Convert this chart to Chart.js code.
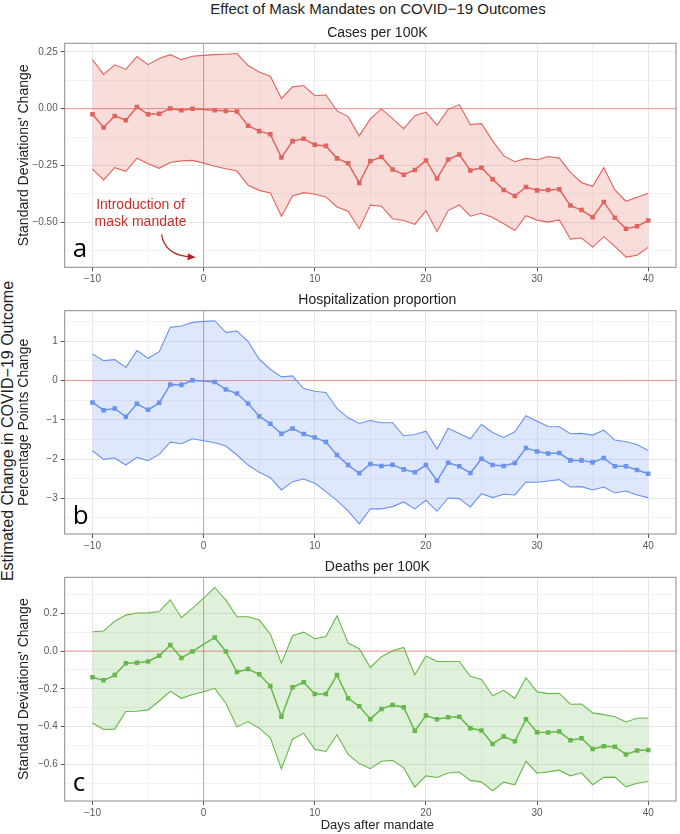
<!DOCTYPE html>
<html>
<head>
<meta charset="utf-8">
<script src="https://cdn.jsdelivr.net/npm/chart.js@4.4.1/dist/chart.umd.min.js"></script>
<style>
  body { margin: 0; background: #fff; }
  #page { position: relative; width: 680px; height: 834px; background: #fff; overflow: hidden;
          font-family: "Liberation Sans", Arial, sans-serif; color: #222; }
  canvas { position: absolute; left: 0; }
  #mainTitle { position: absolute; left: 0; top: 0; width: 756px; text-align: center;
               font-size: 15px; line-height: 17px; }
  #yLabel { position: absolute; left: -192px; top: 422px; width: 400px; height: 18px; line-height: 18px;
            text-align: center; font-size: 16px; transform: rotate(-90deg); }
</style>
</head>
<body>
<div id="page">
  <div id="mainTitle">Effect of Mask Mandates on COVID−19 Outcomes</div>
  <div id="yLabel">Estimated Change in COVID−19 Outcome</div>
  <canvas id="casesChart" width="680" height="290" style="top:0px"></canvas>
  <canvas id="hospChart" width="680" height="267" style="top:290px"></canvas>
  <canvas id="deathsChart" width="680" height="277" style="top:557px"></canvas>
</div>
<script>
// days relative to the mandate; day 0 is the reference (no point estimate)
const days = [-10, -9, -8, -7, -6, -5, -4, -3, -2, -1, 0, 1, 2, 3, 4, 5, 6, 7, 8, 9, 10,
  11, 12, 13, 14, 15, 16, 17, 18, 19, 20, 21, 22, 23, 24, 25, 26, 27, 28, 29, 30,
  31, 32, 33, 34, 35, 36, 37, 38, 39, 40];
const xMajor = [-10, 0, 10, 20, 30, 40];
const xMinor = [-5, 5, 15, 25, 35];
const xLabels = ['−10', '0', '10', '20', '30', '40'];

// a: cases per 100K
const casesMid = [-0.025, -0.083, -0.032, -0.051, 0.007, -0.025, -0.022, 0.001, -0.007, 0.000, null,
  -0.007, -0.010, -0.013, -0.075, -0.099, -0.113, -0.215, -0.143, -0.133, -0.159, -0.164, -0.219, -0.241, -0.327,
  -0.231, -0.213, -0.268, -0.291, -0.270, -0.228, -0.308, -0.224, -0.202, -0.272, -0.260, -0.311, -0.358,
  -0.385, -0.345, -0.360, -0.358, -0.355, -0.427, -0.447, -0.478, -0.411, -0.481, -0.529, -0.518, -0.493];
const casesHigh = [0.216, 0.151, 0.193, 0.173, 0.230, 0.194, 0.221, 0.238, 0.216, 0.231, 0.235,
  0.238, 0.240, 0.243, 0.190, 0.162, 0.143, 0.045, 0.096, 0.102, 0.057, 0.060, -0.010, -0.035, -0.120,
  -0.045, -0.001, -0.044, -0.088, -0.031, -0.015, -0.072, -0.003, 0.018, -0.070, -0.066, -0.142, -0.208,
  -0.234, -0.219, -0.225, -0.211, -0.218, -0.281, -0.326, -0.342, -0.260, -0.358, -0.408, -0.390, -0.373];
const casesLow = [-0.266, -0.314, -0.260, -0.276, -0.218, -0.243, -0.263, -0.237, -0.230, -0.228, -0.240,
  -0.254, -0.265, -0.275, -0.338, -0.360, -0.371, -0.474, -0.385, -0.370, -0.377, -0.389, -0.433, -0.452, -0.529,
  -0.425, -0.430, -0.485, -0.493, -0.510, -0.450, -0.542, -0.449, -0.424, -0.474, -0.461, -0.480, -0.507,
  -0.537, -0.472, -0.491, -0.500, -0.490, -0.575, -0.570, -0.610, -0.564, -0.607, -0.654, -0.646, -0.611];
const casesTicks = [0.25, 0, -0.25, -0.5];
const casesTickLabels = ['0.25', '0.00', '−0.25', '−0.50'];
const casesMinor = [0.125, -0.125, -0.375, -0.625];

// b: hospitalization proportion
const hospMid = [-0.559, -0.754, -0.712, -0.924, -0.593, -0.746, -0.568, -0.102, -0.110, 0.008, null,
  -0.034, -0.229, -0.331, -0.585, -0.907, -1.102, -1.356, -1.220, -1.364, -1.449, -1.568, -1.898, -2.153, -2.364,
  -2.127, -2.178, -2.144, -2.263, -2.339, -2.153, -2.551, -2.093, -2.186, -2.356, -1.992, -2.153, -2.178,
  -2.102, -1.720, -1.805, -1.856, -1.847, -2.034, -2.034, -2.085, -1.975, -2.186, -2.186, -2.280, -2.373];
const hospHigh = [0.678, 0.508, 0.534, 0.331, 0.763, 0.568, 0.737, 1.356, 1.390, 1.483, 1.508,
  1.525, 1.229, 1.263, 1.000, 0.542, 0.288, 0.093, 0.119, -0.203, -0.271, -0.305, -0.712, -0.949, -1.093,
  -1.017, -1.076, -1.076, -1.407, -1.373, -1.288, -1.746, -1.220, -1.347, -1.483, -1.119, -1.322, -1.449,
  -1.305, -0.898, -1.034, -1.169, -1.178, -1.356, -1.347, -1.390, -1.263, -1.517, -1.559, -1.627, -1.780];
const hospLow = [-1.788, -2.008, -1.975, -2.153, -1.958, -2.042, -1.881, -1.568, -1.610, -1.483, -1.534,
  -1.585, -1.669, -1.898, -2.153, -2.339, -2.475, -2.788, -2.576, -2.508, -2.619, -2.831, -3.059, -3.322, -3.653,
  -3.270, -3.271, -3.212, -3.093, -3.271, -3.051, -3.331, -2.992, -3.008, -3.220, -2.881, -2.983, -2.898,
  -2.915, -2.585, -2.593, -2.559, -2.525, -2.712, -2.703, -2.788, -2.712, -2.864, -2.814, -2.915, -2.983];
const hospTicks = [1, 0, -1, -2, -3];
const hospTickLabels = ['1', '0', '−1', '−2', '−3'];
const hospMinor = [1.5, 0.5, -0.5, -1.5, -2.5, -3.5];

// c: deaths per 100K
const deathsMid = [-0.139, -0.155, -0.127, -0.065, -0.062, -0.055, -0.025, 0.032, -0.037, -0.002, null,
  0.072, -0.002, -0.111, -0.095, -0.123, -0.185, -0.348, -0.192, -0.165, -0.227, -0.227, -0.127, -0.250, -0.292,
  -0.360, -0.306, -0.285, -0.297, -0.422, -0.341, -0.361, -0.350, -0.348, -0.408, -0.420, -0.491, -0.452,
  -0.477, -0.361, -0.430, -0.431, -0.426, -0.472, -0.461, -0.518, -0.503, -0.506, -0.547, -0.526, -0.523];
const deathsHigh = [0.102, 0.106, 0.158, 0.190, 0.201, 0.202, 0.209, 0.271, 0.176, 0.227, 0.280,
  0.336, 0.269, 0.181, 0.181, 0.164, 0.090, -0.065, 0.081, 0.100, 0.065, 0.077, 0.186, 0.042, 0.012,
  -0.087, -0.030, 0.002, 0.019, -0.125, -0.026, -0.055, -0.055, -0.055, -0.134, -0.150, -0.237, -0.208,
  -0.250, -0.141, -0.216, -0.225, -0.223, -0.281, -0.280, -0.327, -0.336, -0.347, -0.375, -0.355, -0.354];
const deathsLow = [-0.380, -0.415, -0.413, -0.320, -0.318, -0.311, -0.264, -0.213, -0.250, -0.230, -0.215,
  -0.197, -0.276, -0.401, -0.373, -0.408, -0.459, -0.623, -0.466, -0.434, -0.520, -0.531, -0.443, -0.547, -0.595,
  -0.622, -0.583, -0.578, -0.618, -0.719, -0.660, -0.669, -0.645, -0.640, -0.684, -0.693, -0.739, -0.693,
  -0.707, -0.583, -0.646, -0.639, -0.630, -0.660, -0.644, -0.707, -0.668, -0.667, -0.718, -0.699, -0.690];
const deathsTicks = [0.2, 0, -0.2, -0.4, -0.6];
const deathsTickLabels = ['0.2', '0.0', '−0.2', '−0.4', '−0.6'];
const deathsMinor = [0.3, 0.1, -0.1, -0.3, -0.5, -0.7];

// annotation in panel a, in data units (day, value)
const noteLines = ['Introduction of', 'mask mandate'];
const noteDay = -5.68;
const noteVals = [-0.427, -0.499];
const arrowPath = [[-3.79, -0.554], [-3.49, -0.646], [-0.72, -0.655]];

const tickGrey = '#595959';

function pts(vals) {
  return days.map((d, i) => ({ x: d, y: vals[i] }));
}

const decor = {
  id: 'decor',
  beforeDatasetsDraw(chart) {
    const { ctx, chartArea: a, scales: { x, y } } = chart;
    const y0 = y.getPixelForValue(0);
    const x0 = x.getPixelForValue(0);
    ctx.save();
    ctx.strokeStyle = 'rgba(232, 70, 70, 0.5)';
    ctx.lineWidth = 1;
    ctx.beginPath();
    ctx.moveTo(a.left, y0); ctx.lineTo(a.right, y0);
    ctx.moveTo(x0, a.top); ctx.lineTo(x0, a.bottom);
    ctx.stroke();
    ctx.restore();
  },
  afterDraw(chart, args, opts) {
    const { ctx, chartArea: a, scales: { x, y } } = chart;
    ctx.save();
    // panel border
    ctx.strokeStyle = '#8a8a8a';
    ctx.lineWidth = 1;
    ctx.strokeRect(a.left, a.top, a.right - a.left, a.bottom - a.top);

    // panel title
    const cx = (a.left + a.right) / 2 + 7;
    ctx.fillStyle = '#222';
    ctx.font = '14px "Liberation Sans", Arial, sans-serif';
    ctx.textAlign = 'center';
    ctx.textBaseline = 'middle';
    ctx.fillText(opts.title, cx, a.top - 10.5);

    // panel letter
    ctx.fillStyle = '#000';
    ctx.font = '26px "Open Sans", sans-serif';
    ctx.textAlign = 'left';
    ctx.textBaseline = 'alphabetic';
    ctx.fillText(opts.letter, a.left + 8, a.bottom - 10);

    if (opts.xTitle) {
      ctx.fillStyle = '#222';
      ctx.font = '13px "Liberation Sans", Arial, sans-serif';
      ctx.textAlign = 'center';
      ctx.textBaseline = 'middle';
      ctx.fillText(opts.xTitle, cx, a.bottom + 24);
    }

    if (opts.note) {
      ctx.fillStyle = '#c8302a';
      ctx.font = '14px "Liberation Sans", Arial, sans-serif';
      ctx.textAlign = 'center';
      ctx.textBaseline = 'middle';
      noteLines.forEach((t, i) => ctx.fillText(t, x.getPixelForValue(noteDay), y.getPixelForValue(noteVals[i])));
      const p = arrowPath.map(q => [x.getPixelForValue(q[0]), y.getPixelForValue(q[1])]);
      ctx.strokeStyle = '#b3261e';
      ctx.fillStyle = '#b3261e';
      ctx.lineWidth = 1.2;
      const ang = Math.atan2(p[2][1] - p[1][1], p[2][0] - p[1][0]);
      const back = [p[2][0] - 5 * Math.cos(ang), p[2][1] - 5 * Math.sin(ang)];
      ctx.beginPath();
      ctx.moveTo(p[0][0], p[0][1]);
      ctx.quadraticCurveTo(p[1][0], p[1][1], back[0], back[1]);
      ctx.stroke();
      ctx.beginPath();
      ctx.moveTo(p[2][0], p[2][1]);
      ctx.lineTo(p[2][0] - 8 * Math.cos(ang) + 3.5 * Math.sin(ang), p[2][1] - 8 * Math.sin(ang) - 3.5 * Math.cos(ang));
      ctx.lineTo(p[2][0] - 8 * Math.cos(ang) - 3.5 * Math.sin(ang), p[2][1] - 8 * Math.sin(ang) + 3.5 * Math.cos(ang));
      ctx.closePath();
      ctx.fill();
    }
    ctx.restore();
  }
};

function makePanel(id, p) {
  const isMajorX = v => xMajor.includes(v);
  const isMajorY = v => p.yTicks.includes(v);
  return new Chart(document.getElementById(id), {
    type: 'line',
    data: {
      datasets: [
        { data: pts(p.mid), borderColor: p.color, borderWidth: 1.5, pointStyle: 'rect', pointRadius: 3.2,
          pointBackgroundColor: p.color, pointBorderWidth: 0, spanGaps: true, fill: false },
        { data: pts(p.high), borderColor: p.color, borderWidth: 1.1, pointRadius: 0,
          fill: '+1', backgroundColor: p.fill },
        { data: pts(p.low), borderColor: p.color, borderWidth: 1.1, pointRadius: 0, fill: false }
      ]
    },
    options: {
      responsive: false,
      animation: false,
      devicePixelRatio: 1,
      events: [],
      layout: { padding: { left: 12, right: 3.3, top: p.padTop, bottom: 0 } },
      elements: { line: { tension: 0 } },
      plugins: {
        legend: { display: false },
        tooltip: { enabled: false },
        filler: { drawTime: 'beforeDatasetsDraw' },
        decor: { title: p.title, letter: p.letter, note: p.note, xTitle: p.xTitle }
      },
      scales: {
        x: {
          type: 'linear', min: -12.5, max: 42.5,
          afterBuildTicks: s => { s.ticks = xMajor.concat(xMinor).sort((m, n) => m - n).map(v => ({ value: v })); },
          afterFit: s => { s.height = p.padBottom; },
          border: { display: false },
          grid: {
            color: c => isMajorX(c.tick.value) ? '#e6e6e6' : '#f3f3f3',
            tickColor: c => isMajorX(c.tick.value) ? '#555' : 'rgba(0,0,0,0)',
            tickLength: 4
          },
          ticks: {
            autoSkip: false, maxRotation: 0, padding: 2, color: tickGrey,
            font: { size: 10, family: '"Liberation Sans", Arial, sans-serif' },
            callback: v => isMajorX(v) ? xLabels[xMajor.indexOf(v)] : ''
          }
        },
        y: {
          type: 'linear', min: p.yMin, max: p.yMax,
          afterBuildTicks: s => { s.ticks = p.yTicks.concat(p.yMinor).sort((m, n) => m - n).map(v => ({ value: v })); },
          afterFit: s => { s.width = 52.7; },
          border: { display: false },
          grid: {
            color: c => isMajorY(c.tick.value) ? '#e6e6e6' : '#f3f3f3',
            tickColor: c => isMajorY(c.tick.value) ? '#555' : 'rgba(0,0,0,0)',
            tickLength: 4
          },
          ticks: {
            autoSkip: false, padding: 3, color: tickGrey,
            font: { size: 10, family: '"Liberation Sans", Arial, sans-serif' },
            callback: v => isMajorY(v) ? p.yLabels[p.yTicks.indexOf(v)] : ''
          },
          title: {
            display: true, text: p.yTitle, color: '#222',
            font: { size: 14, family: '"Liberation Sans", Arial, sans-serif' },
            padding: { top: 4, bottom: 0 }
          }
        }
      }
    },
    plugins: [decor]
  });
}

makePanel('casesChart', {
  mid: casesMid, high: casesHigh, low: casesLow,
  color: '#e0645c', fill: 'rgba(224, 100, 92, 0.22)',
  yMin: -0.699, yMax: 0.288, yTicks: casesTicks, yLabels: casesTickLabels, yMinor: casesMinor,
  yTitle: "Standard Deviations' Change", title: 'Cases per 100K', letter: 'a', note: true,
  padTop: 43.3, padBottom: 22.7
});

makePanel('hospChart', {
  mid: hospMid, high: hospHigh, low: hospLow,
  color: '#6a93ee', fill: 'rgba(106, 147, 238, 0.22)',
  yMin: -3.91, yMax: 1.78, yTicks: hospTicks, yLabels: hospTickLabels, yMinor: hospMinor,
  yTitle: 'Percentage Points Change', title: 'Hospitalization proportion', letter: 'b', note: false,
  padTop: 20.7, padBottom: 23
});

makePanel('deathsChart', {
  mid: deathsMid, high: deathsHigh, low: deathsLow,
  color: '#66b84a', fill: 'rgba(102, 184, 74, 0.2)',
  yMin: -0.793, yMax: 0.390, yTicks: deathsTicks, yLabels: deathsTickLabels, yMinor: deathsMinor,
  yTitle: "Standard Deviations' Change", title: 'Deaths per 100K', letter: 'c', note: false,
  xTitle: 'Days after mandate', padTop: 20.3, padBottom: 33
});
</script>
</body>
</html>
